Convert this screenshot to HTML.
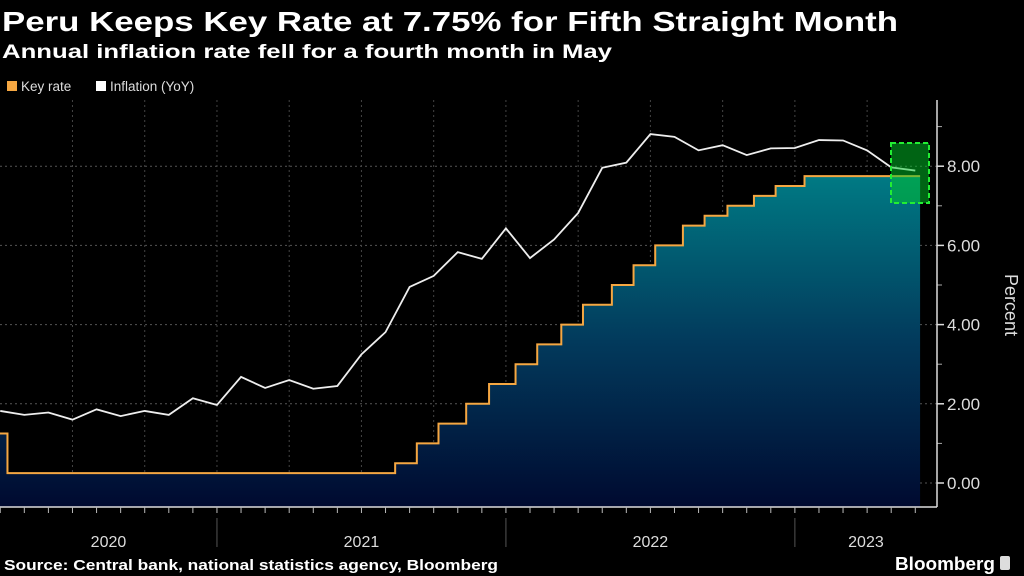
<!DOCTYPE html>
<html><head><meta charset="utf-8"><style>
html,body{margin:0;padding:0;background:#000;width:1024px;height:576px;overflow:hidden}
svg{display:block;font-family:"Liberation Sans",sans-serif}
</style></head><body>
<svg id="chart" width="1024" height="576" viewBox="0 0 1024 576">
<defs>
<linearGradient id="areaGrad" x1="0" y1="0" x2="0" y2="1">
<stop offset="0" stop-color="#007a84"/><stop offset="0.5" stop-color="#023a5c"/><stop offset="1" stop-color="#000a30"/>
</linearGradient>
<clipPath id="plotClip"><rect x="0" y="95" width="937" height="412"/></clipPath>
</defs>
<text x="2" y="31" fill="#fff" font-size="28" font-weight="bold" textLength="896" lengthAdjust="spacingAndGlyphs">Peru Keeps Key Rate at 7.75% for Fifth Straight Month</text>
<text x="2" y="58" fill="#fff" font-size="19" font-weight="bold" textLength="610" lengthAdjust="spacingAndGlyphs">Annual inflation rate fell for a fourth month in May</text>
<g>
<g><rect x="7" y="81" width="10" height="10" fill="#f5a742"/><text x="21" y="91" fill="#ddd" font-size="13.5">Key rate</text></g>
<g><rect x="96" y="81" width="10" height="10" fill="#fff"/><text x="110" y="91" fill="#ddd" font-size="13.5">Inflation (YoY)</text></g>
</g>
<g id="grid"></g>
<g id="series" clip-path="url(#plotClip)"></g>
<g id="axes"></g>
<rect x="891" y="143" width="38" height="60" fill="rgba(0,200,40,0.5)" stroke="#22ee33" stroke-width="2" stroke-dasharray="5,3"/>
<text transform="translate(1005,305) rotate(90)" fill="#ddd" font-size="18" text-anchor="middle">Percent</text>
<text x="4" y="570" fill="#fff" font-size="14.5" font-weight="bold" textLength="494" lengthAdjust="spacingAndGlyphs">Source: Central bank, national statistics agency, Bloomberg</text>
<text x="895" y="570" fill="#fff" font-size="18" font-weight="bold" textLength="100" lengthAdjust="spacingAndGlyphs">Bloomberg</text>
<rect x="1000" y="556" width="10" height="14" rx="2" fill="#ddd"/>
</svg>
<script>
const yTicks = [0, 2, 4, 6, 8];
const yTickLabels = ["0.00", "2.00", "4.00", "6.00", "8.00"];
const years = ["2020", "2021", "2022", "2023"];
// key rate change dates as month offsets from Jan 2020, and values
const rateMonths = [0, 3.3, 19.4, 20.3, 21.2, 22.35, 23.3, 24.4, 25.3, 26.3, 27.2, 28.4, 29.3, 30.2, 31.35, 32.25, 33.2, 34.3, 35.2, 36.4];
const rateValues = [1.25, 0.25, 0.5, 1.0, 1.5, 2.0, 2.5, 3.0, 3.5, 4.0, 4.5, 5.0, 5.5, 6.0, 6.5, 6.75, 7.0, 7.25, 7.5, 7.75];
const rateEnd = 41.2;
// monthly inflation YoY, Mar 2020 .. May 2023
const inflStart = 2; // Mar 2020 index
const inflation = [1.82,1.72,1.78,1.60,1.86,1.69,1.82,1.72,2.14,1.97,
 2.68,2.40,2.60,2.38,2.45,3.25,3.81,4.95,5.23,5.83,5.66,6.43,
 5.68,6.15,6.82,7.96,8.09,8.81,8.74,8.40,8.53,8.28,8.45,8.46,
 8.66,8.65,8.40,7.97,7.89];

const NS = "http://www.w3.org/2000/svg";
const X = m => -72 + m * 24.08;
const Y = v => 483 - v * 39.6;
function mk(tag, attrs, parent){const e=document.createElementNS(NS,tag);for(const k in attrs)e.setAttribute(k,attrs[k]);parent.appendChild(e);return e;}
const grid=document.getElementById('grid'), series=document.getElementById('series'), axes=document.getElementById('axes');

yTicks.forEach((t,i)=>{
  const l=mk('line',{x1:0,x2:937,y1:Y(t),y2:Y(t),stroke:'#555','stroke-dasharray':'2,3','stroke-width':1},grid);
  
  
  const tk=mk('line',{x1:937,x2:944,y1:Y(t),y2:Y(t),stroke:'#ddd','stroke-width':1.5},axes);
  
  
  const tx=mk('text',{x:947,y:Y(t)+6,fill:'#ddd','font-size':17},axes);
  tx.textContent=yTickLabels[i];
  
  
});
for(let v=1; v<=9; v+=2){
  const tk=mk('line',{x1:937,x2:942,y1:Y(v),y2:Y(v),stroke:'#aaa','stroke-width':1},axes);
  
  
}
for(let q=1; q<=17; q++){
  const x=X(q*3); if(x<2||x>935) continue;
  const l=mk('line',{x1:x,x2:x,y1:100,y2:507,stroke:'#444','stroke-dasharray':'2,3','stroke-width':1},grid);
  
  
}
// area + key rate step
let pts=[];
for(let i=0;i<rateMonths.length;i++){
  const x0=Math.max(X(rateMonths[i]),-5), x1=X(i+1<rateMonths.length?rateMonths[i+1]:rateEnd);
  pts.push([x0,Y(rateValues[i])],[x1,Y(rateValues[i])]);
}
const area=mk('path',{d:'M'+pts.map(p=>p.join(',')).join(' L')+` L${X(rateEnd)},507 L-5,507 Z`,fill:'url(#areaGrad)'},series);


const rl=mk('polyline',{points:pts.map(p=>p.join(',')).join(' '),fill:'none',stroke:'#f5a742','stroke-width':2},series);


const ip=inflation.map((v,i)=>X(inflStart+i+1)+','+Y(v)).join(' ');
const il=mk('polyline',{points:ip,fill:'none',stroke:'#eee','stroke-width':1.8},series);


// axes lines
const ya=mk('line',{x1:937,x2:937,y1:100,y2:507,stroke:'#ddd','stroke-width':1.5},axes);


const xa=mk('line',{x1:0,x2:937,y1:507,y2:507,stroke:'#ddd','stroke-width':1.5},axes);


for(let m=3;m<=42;m++){
  const x=X(m); if(x>936) continue;
  const t=mk('line',{x1:x,x2:x,y1:507,y2:513,stroke:'#bbb','stroke-width':1},axes);
  
  
}
years.forEach((yr,i)=>{
  const s=Math.max(X(i*12),0), e=Math.min(X(i*12+12),937);
  if(i>0){const sp=mk('line',{x1:X(i*12),x2:X(i*12),y1:518,y2:547,stroke:'#555','stroke-width':1},axes);
    
    }
  const t=mk('text',{x:(s+e)/2,y:547,fill:'#ddd','font-size':16,'text-anchor':'middle'},axes);
  t.textContent=yr;
  
  
});
</script>
</body></html>
